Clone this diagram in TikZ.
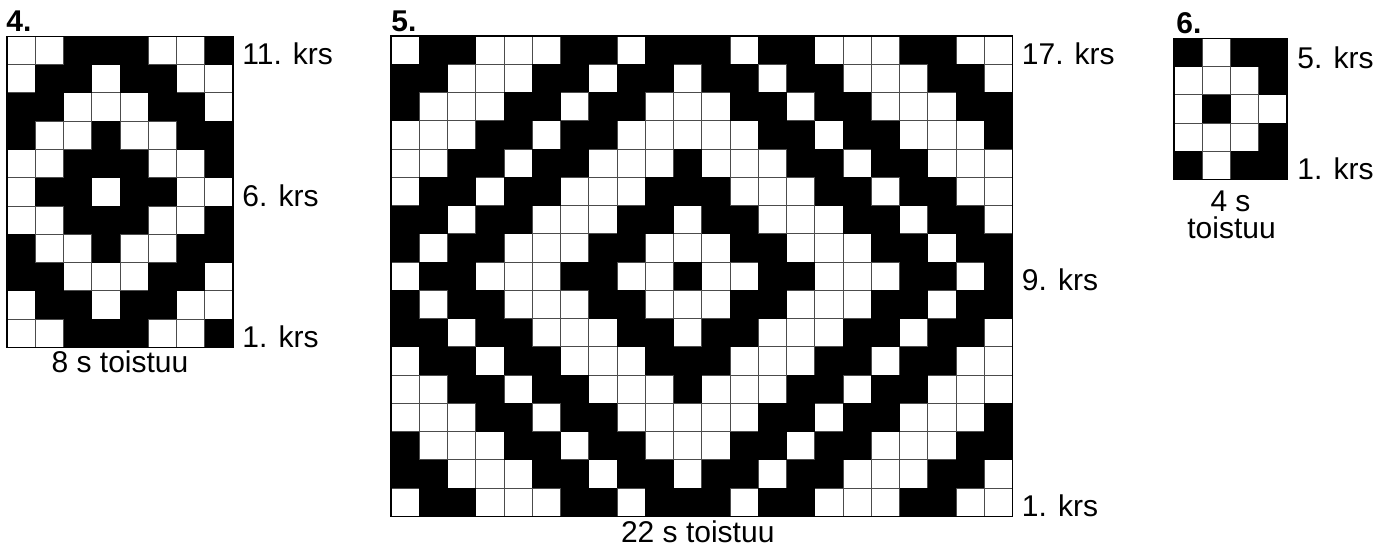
\documentclass[tikz,border=0pt]{standalone}
\usepackage{fontspec}
\setmainfont{Liberation Sans}
\usetikzlibrary{positioning}
\tikzset{
  cellline/.style={draw=black!70,line width=0.5pt},
  cellfill/.style={fill=black},
  chartframe/.style={draw=black,line width=0.6pt},
  rowlab/.style={anchor=base west,inner sep=0pt,font=\fontsize{15}{18}\selectfont},
  chartno/.style={anchor=base west,inner sep=0pt,font=\fontsize{15}{18}\selectfont\bfseries},
  repeatlab/.style={anchor=base,inner sep=0pt,font=\fontsize{15}{18}\selectfont},
}

\begin{document}
\begin{tikzpicture}[x=0.5pt,y=-0.5pt]
  \def\cellw{28.25}
  \useasboundingbox (0,0) rectangle (1386,551);

  % chart 4: 8 stitches, 11 rows
  \begin{scope}[shift={(7,36.5)}]
    \foreach \i in {0,...,8} \draw[cellline] (\i*\cellw,0) -- (\i*\cellw,11*\cellw);
    \foreach \j in {0,...,11} \draw[cellline] (0,\j*\cellw) -- (8*\cellw,\j*\cellw);
    \foreach \row [count=\r from 0] in {
        {0,0,1,1,1,0,0,1},{0,1,1,0,1,1,0,0},{1,1,0,0,0,1,1,0},{1,0,0,1,0,0,1,1},
        {0,0,1,1,1,0,0,1},{0,1,1,0,1,1,0,0},{0,0,1,1,1,0,0,1},{1,0,0,1,0,0,1,1},
        {1,1,0,0,0,1,1,0},{0,1,1,0,1,1,0,0},{0,0,1,1,1,0,0,1}}{
      \foreach \c [count=\k from 0] in \row {
        \ifnum\c=1 \fill[cellfill] (\k*\cellw,\r*\cellw) rectangle ++(\cellw,\cellw); \fi
      }
    }
    \draw[chartframe] (0,0) rectangle (8*\cellw,11*\cellw);
    \node[chartno] (c4no) at (-1,-4.5) {4.};
    \node[rowlab] (c4r11) at (8*\cellw+9,\cellw) {11. krs};
    \node[rowlab] (c4r6) at (8*\cellw+9,6*\cellw) {6. krs};
    \node[rowlab] (c4r1) at (8*\cellw+9,11*\cellw) {1. krs};
    \node[repeatlab] (c4rep) at (4*\cellw,11*\cellw+25) {8 s toistuu};
  \end{scope}

  % chart 5: 22 stitches, 17 rows
  \begin{scope}[shift={(391,36)}]
    \foreach \i in {0,...,22} \draw[cellline] (\i*\cellw,0) -- (\i*\cellw,17*\cellw);
    \foreach \j in {0,...,17} \draw[cellline] (0,\j*\cellw) -- (22*\cellw,\j*\cellw);
    \foreach \row [count=\r from 0] in {
        {0,1,1,0,0,0,1,1,0,1,1,1,0,1,1,0,0,0,1,1,0,0},
        {1,1,0,0,0,1,1,0,1,1,0,1,1,0,1,1,0,0,0,1,1,0},
        {1,0,0,0,1,1,0,1,1,0,0,0,1,1,0,1,1,0,0,0,1,1},
        {0,0,0,1,1,0,1,1,0,0,0,0,0,1,1,0,1,1,0,0,0,1},
        {0,0,1,1,0,1,1,0,0,0,1,0,0,0,1,1,0,1,1,0,0,0},
        {0,1,1,0,1,1,0,0,0,1,1,1,0,0,0,1,1,0,1,1,0,0},
        {1,1,0,1,1,0,0,0,1,1,0,1,1,0,0,0,1,1,0,1,1,0},
        {1,0,1,1,0,0,0,1,1,0,0,0,1,1,0,0,0,1,1,0,1,1},
        {0,1,1,0,0,0,1,1,0,0,1,0,0,1,1,0,0,0,1,1,0,1},
        {1,0,1,1,0,0,0,1,1,0,0,0,1,1,0,0,0,1,1,0,1,1},
        {1,1,0,1,1,0,0,0,1,1,0,1,1,0,0,0,1,1,0,1,1,0},
        {0,1,1,0,1,1,0,0,0,1,1,1,0,0,0,1,1,0,1,1,0,0},
        {0,0,1,1,0,1,1,0,0,0,1,0,0,0,1,1,0,1,1,0,0,0},
        {0,0,0,1,1,0,1,1,0,0,0,0,0,1,1,0,1,1,0,0,0,1},
        {1,0,0,0,1,1,0,1,1,0,0,0,1,1,0,1,1,0,0,0,1,1},
        {1,1,0,0,0,1,1,0,1,1,0,1,1,0,1,1,0,0,0,1,1,0},
        {0,1,1,0,0,0,1,1,0,1,1,1,0,1,1,0,0,0,1,1,0,0}}{
      \foreach \c [count=\k from 0] in \row {
        \ifnum\c=1 \fill[cellfill] (\k*\cellw,\r*\cellw) rectangle ++(\cellw,\cellw); \fi
      }
    }
    \draw[chartframe] (0,0) rectangle (22*\cellw,17*\cellw);
    \node[chartno] (c5no) at (0,-4) {5.};
    \node[rowlab] (c5r17) at (22*\cellw+9,\cellw) {17. krs};
    \node[rowlab] (c5r9) at (22*\cellw+9,9*\cellw) {9. krs};
    \node[rowlab] (c5r1) at (22*\cellw+9,17*\cellw) {1. krs};
    \node[repeatlab] (c5rep) at (11*\cellw-4,17*\cellw+26.5) {22 s toistuu};
  \end{scope}

  % chart 6: 4 stitches, 5 rows
  \begin{scope}[shift={(1174,38.3)}]
    \foreach \i in {0,...,4} \draw[cellline] (\i*\cellw,0) -- (\i*\cellw,5*\cellw);
    \foreach \j in {0,...,5} \draw[cellline] (0,\j*\cellw) -- (4*\cellw,\j*\cellw);
    \foreach \row [count=\r from 0] in {
        {1,0,1,1},{0,0,0,1},{0,1,0,0},{0,0,0,1},{1,0,1,1}}{
      \foreach \c [count=\k from 0] in \row {
        \ifnum\c=1 \fill[cellfill] (\k*\cellw,\r*\cellw) rectangle ++(\cellw,\cellw); \fi
      }
    }
    \draw[chartframe] (0,0) rectangle (4*\cellw,5*\cellw);
    \node[chartno] (c6no) at (2,-5) {6.};
    \node[rowlab] (c6r5) at (4*\cellw+10,\cellw+1.5) {5. krs};
    \node[rowlab] (c6r1) at (4*\cellw+10,5*\cellw) {1. krs};
    \node[repeatlab] (c6rep) at (2*\cellw,5*\cellw+31.5) {4 s};
    \node[repeatlab] (c6rep2) at (2*\cellw+1,5*\cellw+58.5) {toistuu};
  \end{scope}
\end{tikzpicture}
\end{document}
